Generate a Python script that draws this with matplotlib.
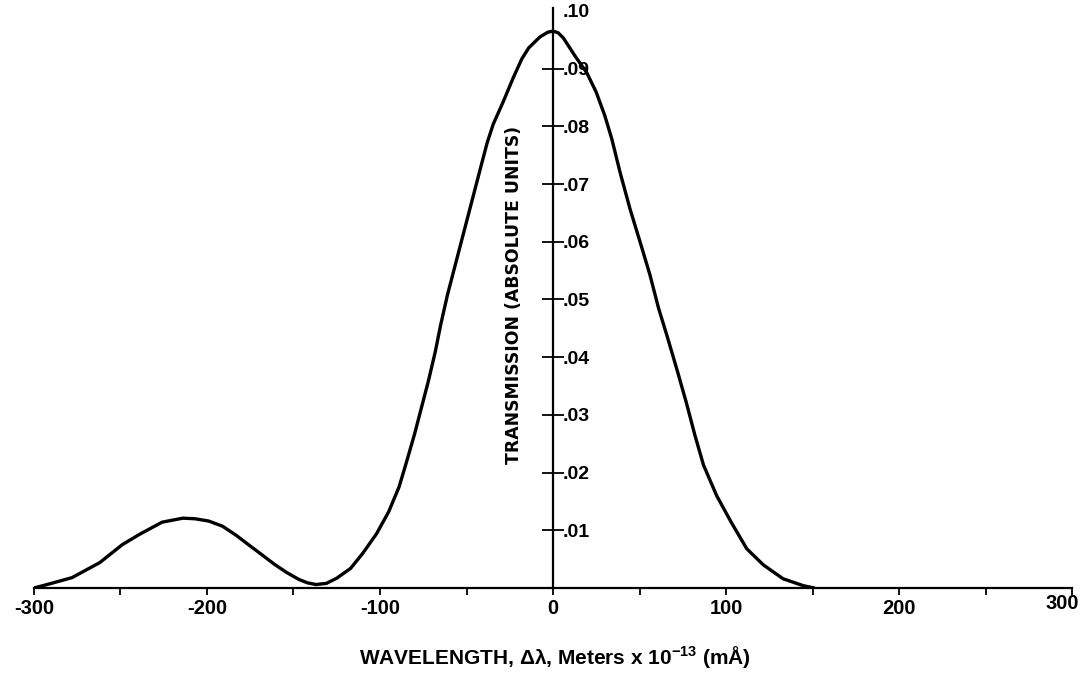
"""
Transmission profile vs wavelength offset, redrawn from a scanned figure.
"""

import numpy as np
import matplotlib
matplotlib.use('Agg')
import matplotlib.pyplot as plt
from matplotlib.transforms import ScaledTranslation

# curve: wavelength offset (mÅ) and transmission
wavelength = [-300, -290, -278, -262, -249, -239, -226, -214, -207, -199,
              -191, -183, -176, -168, -161, -154, -147, -142, -137, -131,
              -125, -117, -110, -102, -95, -89, -85, -80, -76, -72,
              -68, -65, -61, -57, -53, -49, -45, -41, -38, -34.5,
              -29, -23, -18, -14, -7.5, -3, 0, 3, 6, 12.7,
              19.5, 25, 30, 34, 38.7, 44.5, 50.3, 56, 61, 66,
              71.5, 77, 82, 87, 94.6, 103, 112, 121.6, 133, 144.7,
              151]
transmission = [0.0, 0.0008, 0.0018, 0.0044, 0.0075, 0.0093, 0.0114, 0.0121, 0.0120, 0.0116,
                0.0107, 0.0091, 0.0075, 0.0057, 0.0041, 0.0027, 0.0015, 0.0009, 0.0006, 0.0008,
                0.0017, 0.0034, 0.0060, 0.0094, 0.0132, 0.0175, 0.0215, 0.0267, 0.0313, 0.0359,
                0.0410, 0.0455, 0.0508, 0.0554, 0.0600, 0.0646, 0.0692, 0.0738, 0.0772, 0.0804,
                0.0841, 0.0884, 0.0917, 0.0936, 0.0955, 0.0963, 0.0965, 0.0962, 0.0953, 0.0922,
                0.0893, 0.0859, 0.0818, 0.0778, 0.0721, 0.0657, 0.0600, 0.0543, 0.0485, 0.0436,
                0.0380, 0.0322, 0.0265, 0.0213, 0.0160, 0.0114, 0.0068, 0.0040, 0.0016, 0.0004,
                0.0]

x_ticks = np.arange(-300, 301, 50)
x_labels = [str(t) if t % 100 == 0 else '' for t in x_ticks]
y_ticks = [0.01, 0.02, 0.03, 0.04, 0.05, 0.06, 0.07, 0.08, 0.09, 0.10]
y_labels = ['.01', '.02', '.03', '.04', '.05', '.06', '.07', '.08', '.09', '.10']

plt.rcParams['mathtext.default'] = 'regular'
sans = ['Liberation Sans', 'DejaVu Sans']

fig = plt.figure(figsize=(10.88, 6.9), dpi=100)
ax = fig.add_axes([34 / 1088, 102 / 690, 1038 / 1088, 580 / 690])

ax.plot(wavelength, transmission, color='black', lw=2.4,
        solid_capstyle='round', solid_joinstyle='round')

ax.set_xlim(-300, 300)
ax.set_ylim(0, 0.1005)

# y axis sits at zero, x axis along the bottom
for side in ('top', 'right'):
    ax.spines[side].set_visible(False)
ax.spines['left'].set_position(('data', 0))
ax.spines['left'].set_linewidth(1.6)
ax.spines['bottom'].set_linewidth(1.6)

ax.set_xticks(x_ticks)
ax.set_xticklabels(x_labels, family=sans, fontweight='bold', fontsize=14.5)
ax.tick_params(axis='x', direction='out', length=5, width=1.3, pad=3)
# the 300 label sits a little left and higher on the scan
lab300 = ax.get_xticklabels()[-1]
lab300.set_transform(lab300.get_transform()
                     + ScaledTranslation(-7 / 72, 4 / 72, fig.dpi_scale_trans))

ax.set_yticks(y_ticks)
ax.set_yticklabels(y_labels, family=sans, fontweight='bold', fontsize=14)
ax.tick_params(axis='y', direction='inout', length=16, width=1.3,
               left=True, labelleft=False, labelright=True)
ax.yaxis.get_major_ticks()[-1].tick1line.set_visible(False)
# tick labels hug the right side of the central axis
offset = ScaledTranslation(7 / 72, 0, fig.dpi_scale_trans)
for lab in ax.get_yticklabels():
    lab.set_horizontalalignment('left')
    lab.set_transform(ax.get_yaxis_transform() + offset)
    lab.set_x(0.5)

ax.text(0.4624, 0.505, 'TRANSMISSION (ABSOLUTE UNITS)', transform=ax.transAxes,
        rotation=90, ha='center', va='center', fontsize=12.4, fontweight='bold')

ax.set_xlabel('WAVELENGTH, Δλ, Meters x 10$^{-13}$ (mÅ)',
              family=sans, fontweight='bold', fontsize=15)
ax.xaxis.set_label_coords((555 - 34) / 1038, -(657 - 588) / 580)
ax.xaxis.label.set_va('center')

fig.savefig('out.png', dpi=100)
